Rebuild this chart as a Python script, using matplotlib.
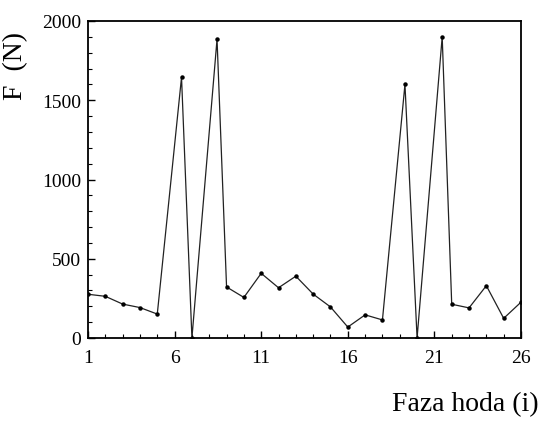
import matplotlib
matplotlib.use("Agg")
import matplotlib.pyplot as plt
from matplotlib.ticker import MultipleLocator, FixedLocator

phase = [1, 2, 3, 4, 5, 6.4, 7, 8.45, 9, 10, 11, 12, 13, 14, 15, 16, 17, 18,
         19.3, 20, 21.45, 22, 23, 24, 25, 26]
force = [276, 263, 214, 192, 151, 1645, 0, 1885, 322, 256, 408, 317, 390, 277,
         196, 69, 146, 114, 1600, 0, 1900, 213, 190, 330, 124, 226]
xticks = [1, 6, 11, 16, 21, 26]
yticks = [0, 500, 1000, 1500, 2000]

plt.rcParams['font.family'] = ['Liberation Serif', 'DejaVu Serif']

fig = plt.figure(figsize=(5.38, 4.27), dpi=100)
ax = fig.add_axes([88/538, 1-339/427, (521-88)/538, (339-22)/427])

ax.plot(phase, force, color='#222222', lw=0.9, marker='o', ms=2.2,
        markerfacecolor='black', markeredgecolor='black')

ax.set_xlim(1, 26)
ax.set_ylim(0, 2000)
ax.xaxis.set_major_locator(FixedLocator(xticks))
ax.xaxis.set_minor_locator(MultipleLocator(1))
ax.yaxis.set_major_locator(FixedLocator(yticks))
ax.yaxis.set_minor_locator(MultipleLocator(100))
ax.tick_params(which='both', direction='in', top=False, right=False,
               labelsize=14, colors='black')
ax.tick_params(which='major', length=5, width=1)
ax.tick_params(which='minor', length=3, width=0.8)
ax.tick_params(axis='x', pad=8)
ax.tick_params(axis='y', pad=5)
for s in ax.spines.values():
    s.set_linewidth(1.3)
    s.set_color('black')

fig.text(16/538, 1-66/427, 'F  (N)', rotation=90, ha='center', va='center',
         fontsize=20)
fig.text(392/538, 1-405/427, 'Faza hoda (i)', ha='left', va='center',
         fontsize=20)

fig.savefig('out.png', dpi=100)
